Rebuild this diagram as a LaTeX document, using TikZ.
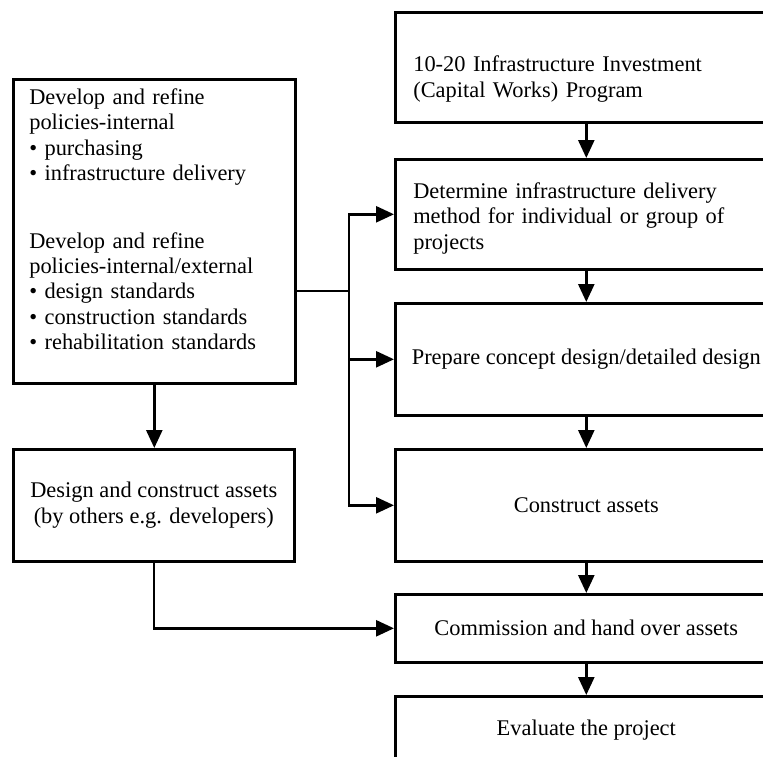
\documentclass[tikz,border=0pt]{standalone}
\usepackage{fontspec}
\setmainfont{Liberation Serif}
\usetikzlibrary{arrows.meta}

\begin{document}
\begin{tikzpicture}[x=1pt,y=-1pt,
    box/.style={draw,line width=2.6pt,font=\fontsize{22.4}{25.4}\selectfont,anchor=north west},
    wide/.style={box,minimum width=382pt,align=center},
    lbox/.style={box,text width=346pt,inner xsep=18pt,align=left},
    arr/.style={-{Triangle[length=18pt,width=16pt]},line width=2.6pt},
    arrs/.style={{Triangle[length=18pt,width=16pt]}-{Triangle[length=18pt,width=16pt]},line width=2.6pt}]
    \useasboundingbox (0,0) rectangle (763,756);
    \node[lbox,minimum height=110pt] (prog) at (394,11) {\rule{0pt}{39pt}10-20 Infrastructure Investment\\(Capital Works) Program};
    \node[lbox,minimum height=110pt] (meth) at (394,158) {\rule{0pt}{24pt}Determine infrastructure delivery\\method for individual or group of\\projects};
    \node[wide,minimum height=112pt] (des) at (394,302) {Prepare concept design/detailed design};
    \node[wide,minimum height=112pt] (cons) at (394,448) {Construct assets};
    \node[wide,minimum height=68pt] (comm) at (394,593) {Commission and hand over assets};
    \node[wide,minimum height=68pt] (eval) at (394,695) {Evaluate the project};
    \node[box,text width=250pt,inner xsep=16pt,align=left,minimum height=304pt] (pol) at (12,78) {Develop and refine\\policies-internal\\• purchasing\\• infrastructure delivery\\[42pt]Develop and refine\\policies-internal/external\\• design standards\\• construction standards\\• rehabilitation standards\rule[-24pt]{0pt}{24pt}};
    \node[box,minimum width=281pt,minimum height=112pt,align=center] (dev) at (12,448) {Design and construct assets\\(by others e.g. developers)};
    \coordinate (junc) at (349,291);
    \foreach \a/\b in {prog/meth,meth/des,des/cons,cons/comm,comm/eval}
        \draw[arr] (\a) -- (\b);
    \draw[arr] (pol.south) -- (pol.south |- dev.north);
    \draw[arr] (dev.south) |- (comm.west);
    \draw[line width=2.6pt] (pol.east |- junc) -- (junc);
    \draw[arrs] (meth.west) -| (junc) |- (cons.west);
    \draw[arr] (junc |- des.west) -- (des.west);
\end{tikzpicture}
\end{document}
